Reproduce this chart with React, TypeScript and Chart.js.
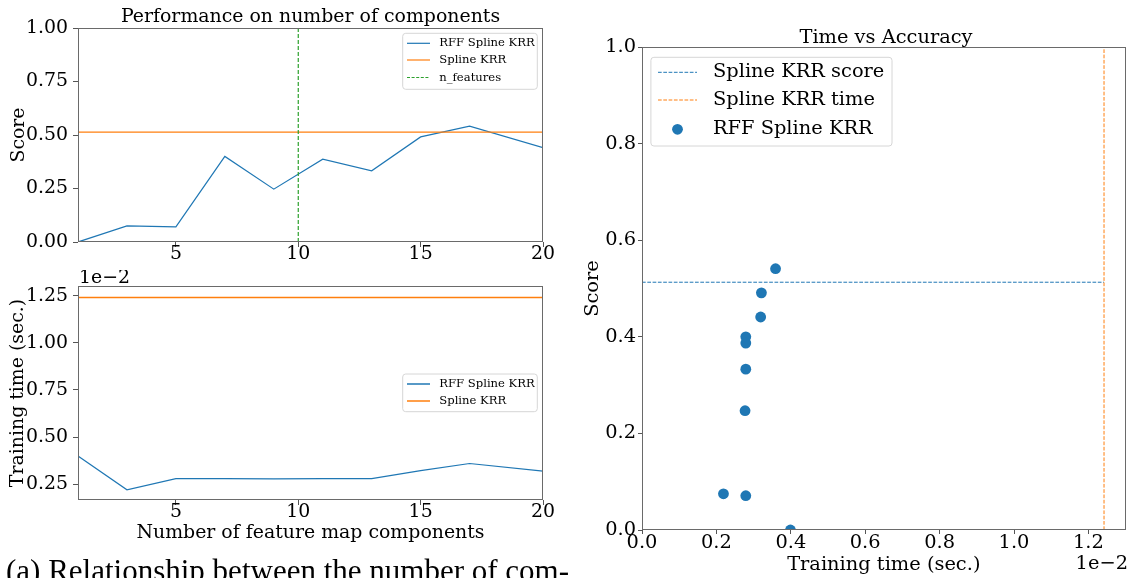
import React, { useEffect, useRef } from "react";
import { Chart, registerables } from "chart.js";

Chart.register(...registerables);

// ---------------- data ----------------
const components = [1, 3, 5, 7, 9, 11, 13, 15, 17, 20];
const rffScore = [0.0, 0.075, 0.071, 0.4, 0.247, 0.387, 0.333, 0.491, 0.541, 0.441];
// training time in units of 1e-2 sec
const rffTime = [0.399, 0.219, 0.279, 0.279, 0.277, 0.279, 0.279, 0.321, 0.359, 0.319];
const splineScore = 0.513;
const splineTime = 1.242; // 1e-2 sec
const nFeatures = 10;

const componentTicks = [5, 10, 15, 20];
const scoreTicksA = [0, 0.25, 0.5, 0.75, 1.0];
const timeTicksA = [0.25, 0.5, 0.75, 1.0, 1.25];
const scoreTicksB = [0, 0.2, 0.4, 0.6, 0.8, 1.0];
const timeTicksB = [0, 0.2, 0.4, 0.6, 0.8, 1.0, 1.2];

// ---------------- styles ----------------
const BLUE = "#1f77b4";
const ORANGE = "#ff7f0e";
const GREEN = "#2ca02c";
const SPINE = "#6a6a6a";
const TICK = "#555555";
const FONT = '"DejaVu Serif", serif';
const LEFT_SIZE = 18.9;
const RIGHT_SIZE = 19.4;

type AxisOpts = {
  min: number;
  max: number;
  ticks: number[];
  digits: number;
  size: number;
  horizontal: boolean;
  extent: number;
  tickLength: number;
  tickPad: number;
  title?: string;
  titlePad?: { top: number; bottom: number };
};

function makeAxis(o: AxisOpts): any {
  return {
    type: "linear",
    min: o.min,
    max: o.max,
    afterBuildTicks: (s: any) => {
      s.ticks = o.ticks.map((v) => ({ value: v }));
    },
    afterFit: (s: any) => {
      if (o.horizontal) s.height = o.extent;
      else s.width = o.extent;
    },
    grid: {
      display: true,
      drawOnChartArea: false,
      drawTicks: true,
      tickLength: o.tickLength,
      tickWidth: 1,
      tickColor: TICK,
      color: TICK,
      lineWidth: 1,
    },
    border: { display: false },
    ticks: {
      autoSkip: false,
      maxRotation: 0,
      minRotation: 0,
      padding: o.tickPad,
      color: "#000",
      font: { family: FONT, size: o.size, lineHeight: 1 },
      callback: (v: any) => Number(v).toFixed(o.digits),
    },
    title: o.title
      ? {
          display: true,
          text: o.title,
          color: "#000",
          font: { family: FONT, size: o.size },
          padding: o.titlePad,
        }
      : { display: false },
  };
}

type Txt = { text: string; x: number; y: number; size: number; align: CanvasTextAlign };
type LegendItem = { label: string; color: string; kind: "line" | "dash" | "dot"; y: number };
type LegendSpec = {
  box: [number, number, number, number];
  items: LegendItem[];
  size: number;
  sx0: number;
  sx1: number;
  tx: number;
  lw: number;
  dash: number[];
  dotR: number;
};

function overlayPlugin(texts: Txt[], legend: LegendSpec) {
  return {
    id: "overlay",
    afterDraw(chart: any) {
      const ctx: CanvasRenderingContext2D = chart.ctx;
      const ca = chart.chartArea;
      ctx.save();
      // frame (all four spines)
      ctx.strokeStyle = SPINE;
      ctx.lineWidth = 1;
      const l = Math.round(ca.left) + 0.5;
      const t = Math.round(ca.top) + 0.5;
      const r = Math.round(ca.right) - 0.5;
      const b = Math.round(ca.bottom) - 0.5;
      ctx.strokeRect(l, t, r - l, b - t);
      // texts
      ctx.fillStyle = "#000";
      ctx.textBaseline = "middle";
      for (const tx of texts) {
        ctx.font = `${tx.size}px ${FONT}`;
        ctx.textAlign = tx.align;
        ctx.fillText(tx.text, tx.x, tx.y);
      }
      // legend
      const [x0, y0, x1, y1] = legend.box;
      const rad = 3;
      ctx.beginPath();
      ctx.moveTo(x0 + rad, y0);
      ctx.arcTo(x1, y0, x1, y1, rad);
      ctx.arcTo(x1, y1, x0, y1, rad);
      ctx.arcTo(x0, y1, x0, y0, rad);
      ctx.arcTo(x0, y0, x1, y0, rad);
      ctx.closePath();
      ctx.fillStyle = "rgba(255,255,255,0.8)";
      ctx.fill();
      ctx.strokeStyle = "#d6d6d6";
      ctx.lineWidth = 1;
      ctx.stroke();
      for (const it of legend.items) {
        if (it.kind === "dot") {
          ctx.beginPath();
          ctx.arc((legend.sx0 + legend.sx1) / 2, it.y, legend.dotR, 0, Math.PI * 2);
          ctx.fillStyle = it.color;
          ctx.fill();
        } else {
          ctx.beginPath();
          ctx.setLineDash(it.kind === "dash" ? legend.dash : []);
          ctx.strokeStyle = it.color;
          ctx.lineWidth = legend.lw;
          ctx.moveTo(legend.sx0, it.y);
          ctx.lineTo(legend.sx1, it.y);
          ctx.stroke();
          ctx.setLineDash([]);
        }
        ctx.fillStyle = "#000";
        ctx.font = `${legend.size}px ${FONT}`;
        ctx.textAlign = "left";
        ctx.textBaseline = "middle";
        ctx.fillText(it.label, legend.tx, it.y);
      }
      ctx.restore();
    },
  };
}

function lineDs(label: string, data: { x: number; y: number }[], color: string, width: number, dash: number[] = []): any {
  return {
    label,
    data,
    showLine: true,
    borderColor: color,
    backgroundColor: color,
    borderWidth: width,
    borderDash: dash,
    pointRadius: 0,
    pointHoverRadius: 0,
    fill: false,
    tension: 0,
    clip: 0,
  };
}

const baseOptions = (padding: any, scales: any) => ({
  responsive: false,
  maintainAspectRatio: false,
  animation: false,
  devicePixelRatio: 1,
  layout: { padding },
  plugins: { legend: { display: false }, tooltip: { enabled: false }, title: { display: false } },
  events: [],
  scales,
});

// ---------- chart 1 : score vs components ----------
function buildScore(): any {
  const rffPts = components.map((c, i) => ({ x: c, y: rffScore[i] }));
  const xMin = components[0];
  const xMax = components[components.length - 1];
  return {
    type: "scatter",
    data: {
      datasets: [
        lineDs("n_features", [{ x: nFeatures, y: 0 }, { x: nFeatures, y: 1 }], GREEN, 1.2, [4, 2]),
        lineDs("Spline KRR", [{ x: xMin, y: splineScore }, { x: xMax, y: splineScore }], ORANGE, 1.3),
        lineDs("RFF Spline KRR", rffPts, BLUE, 1.2),
      ],
    },
    options: baseOptions(
      { left: 0, right: 17, top: 28, bottom: 0 },
      {
        x: makeAxis({ min: 1, max: 20, ticks: componentTicks, digits: 0, size: LEFT_SIZE, horizontal: true, extent: 28, tickLength: 5, tickPad: -2 }),
        y: makeAxis({ min: 0, max: 1, ticks: scoreTicksA, digits: 2, size: LEFT_SIZE, horizontal: false, extent: 78, tickLength: 5, tickPad: 5, title: "Score", titlePad: { top: 7.5, bottom: 0 } }),
      }
    ),
    plugins: [
      overlayPlugin(
        [{ text: "Performance on number of components", x: 310.5, y: 17.5, size: LEFT_SIZE, align: "center" }],
        {
          box: [402.7, 33.3, 537.3, 89.3],
          items: [
            { label: "RFF Spline KRR", color: BLUE, kind: "line", y: 43.3 },
            { label: "Spline KRR", color: ORANGE, kind: "line", y: 60 },
            { label: "n_features", color: GREEN, kind: "dash", y: 77.5 },
          ],
          size: 11.6,
          sx0: 407,
          sx1: 430,
          tx: 439.3,
          lw: 1.2,
          dash: [3, 1.6],
          dotR: 5,
        }
      ),
    ],
  };
}

// ---------- chart 2 : training time vs components ----------
function buildTime(): any {
  const rffPts = components.map((c, i) => ({ x: c, y: rffTime[i] }));
  const xMin = components[0];
  const xMax = components[components.length - 1];
  return {
    type: "scatter",
    data: {
      datasets: [
        lineDs("Spline KRR", [{ x: xMin, y: splineTime }, { x: xMax, y: splineTime }], ORANGE, 1.5),
        lineDs("RFF Spline KRR", rffPts, BLUE, 1.2),
      ],
    },
    options: baseOptions(
      { left: 0, right: 17, top: 16, bottom: 0 },
      {
        x: makeAxis({ min: 1, max: 20, ticks: componentTicks, digits: 0, size: LEFT_SIZE, horizontal: true, extent: 55, tickLength: 5, tickPad: -2, title: "Number of feature map components", titlePad: { top: 0, bottom: 10.4 } }),
        y: makeAxis({ min: 0.165, max: 1.303, ticks: timeTicksA, digits: 2, size: LEFT_SIZE, horizontal: false, extent: 78, tickLength: 5, tickPad: 5, title: "Training time (sec.)", titlePad: { top: 7, bottom: 0 } }),
      }
    ),
    plugins: [
      overlayPlugin(
        [{ text: "1e\u22122", x: 79, y: 8, size: LEFT_SIZE, align: "left" }],
        {
          box: [402.7, 104, 537.3, 141.7],
          items: [
            { label: "RFF Spline KRR", color: BLUE, kind: "line", y: 114 },
            { label: "Spline KRR", color: ORANGE, kind: "line", y: 131 },
          ],
          size: 11.6,
          sx0: 407,
          sx1: 430,
          tx: 439.3,
          lw: 1.5,
          dash: [3, 1.6],
          dotR: 5,
        }
      ),
    ],
  };
}

// ---------- chart 3 : time vs accuracy ----------
function buildAcc(): any {
  const pts = rffTime.map((t, i) => ({ x: t, y: rffScore[i] }));
  return {
    type: "scatter",
    data: {
      datasets: [
        {
          label: "RFF Spline KRR",
          data: pts,
          showLine: false,
          pointRadius: 5.4,
          pointHoverRadius: 5.4,
          pointBorderWidth: 0,
          backgroundColor: BLUE,
          borderColor: BLUE,
          clip: 0,
        },
        lineDs("Spline KRR time", [{ x: splineTime, y: 0 }, { x: splineTime, y: 1 }], ORANGE, 1, [3.7, 1.6]),
        lineDs("Spline KRR score", [{ x: 0, y: splineScore }, { x: splineTime, y: splineScore }], BLUE, 1, [3.7, 1.6]),
      ],
    },
    options: baseOptions(
      { left: 0, right: 1, top: 47, bottom: 0 },
      {
        x: makeAxis({ min: 0, max: 1.3, ticks: timeTicksB, digits: 1, size: RIGHT_SIZE, horizontal: true, extent: 48, tickLength: 4, tickPad: -0.4, title: "Training time (sec.)", titlePad: { top: 0, bottom: 1.4 } }),
        y: makeAxis({ min: 0, max: 1, ticks: scoreTicksB, digits: 1, size: RIGHT_SIZE, horizontal: false, extent: 82, tickLength: 4, tickPad: 2, title: "Score", titlePad: { top: 21.4, bottom: 0 } }),
      }
    ),
    plugins: [
      overlayPlugin(
        [
          { text: "Time vs Accuracy", x: 326, y: 37.5, size: RIGHT_SIZE, align: "center" },
          { text: "1e\u22122", x: 568, y: 564, size: RIGHT_SIZE, align: "right" },
        ],
        {
          box: [90.9, 57.3, 332, 146],
          items: [
            { label: "Spline KRR score", color: BLUE, kind: "dash", y: 72.3 },
            { label: "Spline KRR time", color: ORANGE, kind: "dash", y: 100 },
            { label: "RFF Spline KRR", color: BLUE, kind: "dot", y: 129.3 },
          ],
          size: RIGHT_SIZE,
          sx0: 98,
          sx1: 137,
          tx: 153,
          lw: 1,
          dash: [3.7, 1.6],
          dotR: 5.4,
        }
      ),
    ],
  };
}

function ChartBox(props: { left: number; top: number; width: number; height: number; build: () => any }) {
  const ref = useRef<HTMLCanvasElement>(null);
  useEffect(() => {
    const chart = new Chart(ref.current as HTMLCanvasElement, props.build());
    return () => chart.destroy();
  }, []);
  return (
    <canvas
      ref={ref}
      width={props.width}
      height={props.height}
      style={{ position: "absolute", left: props.left, top: props.top, width: props.width, height: props.height }}
    />
  );
}

export default function App() {
  return (
    <div
      style={{
        position: "fixed",
        left: 0,
        top: 0,
        width: 1131,
        height: 578,
        overflow: "hidden",
        background: "#fff",
      }}
    >
      <ChartBox left={0} top={0} width={560} height={270} build={buildScore} />
      <ChartBox left={0} top={270} width={560} height={285} build={buildTime} />
      <ChartBox left={560} top={0} width={571} height={578} build={buildAcc} />
      <div
        style={{
          position: "absolute",
          left: 6,
          top: 555,
          whiteSpace: "nowrap",
          fontFamily: '"Liberation Serif", serif',
          fontSize: 31,
          lineHeight: 1,
          color: "#000",
        }}
      >
        (a) Relationship between the number of com-
      </div>
    </div>
  );
}
